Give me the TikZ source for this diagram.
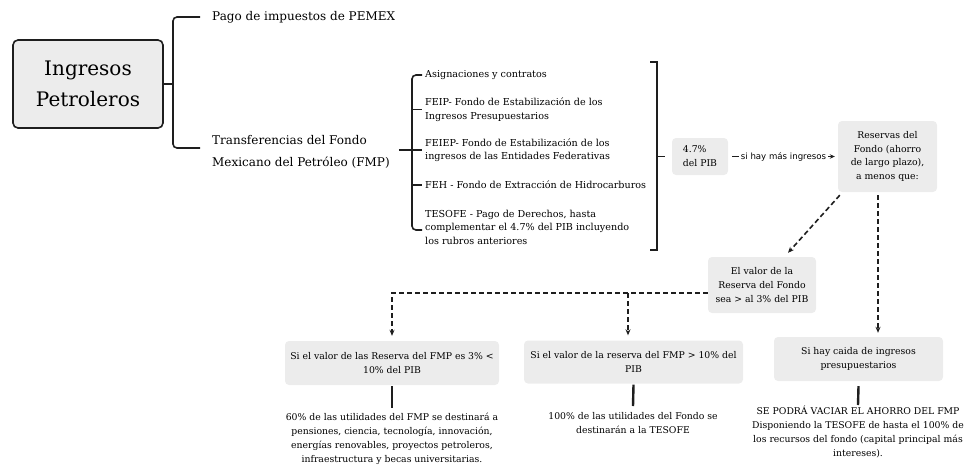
\documentclass[tikz,border=0pt]{standalone}
\usepackage{fontspec}
\setmainfont{DejaVu Serif}
\newfontfamily\labelfont{DejaVu Sans}
\usetikzlibrary{arrows.meta,positioning}
\definecolor{boxgray}{HTML}{ECECEC}
\definecolor{inkline}{HTML}{1E1E1E}
\tikzset{
  mainbox/.style={draw=inkline, line width=1.6pt, fill=boxgray, rounded corners=5pt,
    minimum width=150pt, minimum height=88pt, align=center, font=\fontsize{20}{31}\selectfont},
  graybox/.style={fill=boxgray, rounded corners=4pt, align=center, inner sep=0pt,
    font=\fontsize{9.3}{13.8}\selectfont},
  topic/.style={anchor=west, inner sep=0pt, align=left, font=\fontsize{12}{22.5}\selectfont},
  item/.style={anchor=west, inner sep=0pt, align=left, font=\fontsize{9.6}{13.5}\selectfont},
  result/.style={anchor=north, inner sep=0pt, align=center, font=\fontsize{9.3}{13.8}\selectfont},
  branch/.style={draw=inkline, line width=1.6pt, rounded corners=4pt},
  stem/.style={draw=inkline, line width=2.4pt},
  dasharrow/.style={draw=inkline, line width=1.6pt, dash pattern=on 5pt off 3pt,
    -{Stealth[length=6pt,width=5pt]}},
  thinarrow/.style={draw=inkline, line width=1pt, -{Stealth[length=5pt,width=4.5pt]}},
  flowlabel/.style={fill=white, inner sep=1.5pt, font=\labelfont\fontsize{8.6}{9}\selectfont},
}

\begin{document}
\begin{tikzpicture}[x=1pt,y=-1pt]
\useasboundingbox (0,0) rectangle (968,464);

\node[mainbox] (ingresos) at (88,84) {Ingresos\\Petroleros};
\node[topic] (pago) at (212,17) {Pago de impuestos de PEMEX};
\node[topic] (transf) at (212,152) {Transferencias del Fondo\\Mexicano del Petróleo (FMP)};
\coordinate (fork1) at (173,84);
\draw[branch] (ingresos.east) -- (fork1);
\draw[branch] ([xshift=-12pt]pago.west) -| (fork1) |- ([xshift=-12pt,yshift=4pt]transf.west);

\node[item] (asign) at (425,75) {Asignaciones y contratos};
\node[item] (feip) at (425,109.5) {FEIP- Fondo de Estabilización de los\\Ingresos Presupuestarios};
\node[item] (feiep) at (425,150) {FEIEP- Fondo de Estabilización de los\\ingresos de las Entidades Federativas};
\node[item] (feh) at (425,185) {FEH - Fondo de Extracción de Hidrocarburos};
\node[item] (tesofe) at (425,227) {TESOFE - Pago de Derechos, hasta\\complementar el 4.7\% del PIB incluyendo\\los rubros anteriores};
\coordinate (fork2) at (412,150);
\draw[branch] ([xshift=-3pt]asign.west) -| (fork2) |- ([xshift=-3pt,yshift=-3pt]tesofe.west);
\draw[branch] ([xshift=9pt]transf.east |- fork2) -- ([xshift=-3pt]feiep.west);
\draw[branch] (fork2 |- feip.west) -- ([xshift=-3pt]feip.west);
\draw[branch] (fork2 |- feh.west) -- ([xshift=-3pt]feh.west);

\node[graybox, minimum width=56pt, minimum height=37pt, align=left] (pib) at (700,156.5) {4.7\%\\del PIB};
\coordinate (close) at (657,156.5);
\draw[branch, rounded corners=0pt] ([xshift=-7pt,yshift=94.5pt]close) -- ++(7,0) -- ++(0,188) -- ++(-7,0);
\draw[branch] (close) -- ([xshift=-7pt]pib.west);

\node[graybox, minimum width=99pt, minimum height=71pt] (reservas) at (887.5,156.5) {Reservas del\\Fondo (ahorro\\de largo plazo),\\a menos que:};
\draw[thinarrow] ([xshift=4pt]pib.east) -- node[flowlabel] {si hay más ingresos} ([xshift=-3pt]reservas.west);

\node[graybox, minimum width=108pt, minimum height=56pt] (valor) at (762,285) {El valor de la\\Reserva del Fondo\\sea > al 3\% del PIB};
\node[graybox, minimum width=214pt, minimum height=44pt] (cond1) at (392,363) {Si el valor de las Reserva del FMP es 3\% <\\10\% del PIB};
\node[graybox, minimum width=219pt, minimum height=43pt] (cond2) at (633.5,362) {Si el valor de la reserva del FMP > 10\% del\\PIB};
\node[graybox, minimum width=169pt, minimum height=44pt] (caida) at (858.5,359) {Si hay caida de ingresos\\presupuestarios};

\draw[dasharrow] ([xshift=2pt,yshift=-3pt]reservas.south west) -- ([xshift=26pt,yshift=4pt]valor.north);
\draw[dasharrow, shorten >=4pt] ([xshift=-9.5pt,yshift=-3pt]reservas.south) coordinate (r1) -- (r1 |- caida.north);
\coordinate (joint) at ([yshift=-8pt]valor.west);
\coordinate (c2top) at ([xshift=-5.5pt]cond2.north);
\draw[dasharrow, shorten >=5pt] (joint) -| (cond1.north);
\draw[dasharrow, shorten >=5pt] (c2top |- joint) -- (c2top);

\node[result] (res1) at (392,413) {60\% de las utilidades del FMP se destinará a\\pensiones, ciencia, tecnología, innovación,\\energías renovables, proyectos petroleros,\\infraestructura y becas universitarias.};
\node[result] (res2) at (633,412) {100\% de las utilidades del Fondo se\\destinarán a la TESOFE};
\node[result] (res3) at (858,406) {SE PODRÁ VACIAR EL AHORRO DEL FMP\\Disponiendo la TESOFE de hasta el 100\% de\\los recursos del fondo (capital principal más\\intereses).};
\draw[stem] ([yshift=-1pt]cond1.south) -- ([yshift=5pt]res1.north);
\draw[stem] ([yshift=-1pt]cond2.south) -- ([yshift=6pt]res2.north);
\draw[stem] ([yshift=-5pt]caida.south) -- ([yshift=1pt]res3.north);
\end{tikzpicture}
\end{document}
